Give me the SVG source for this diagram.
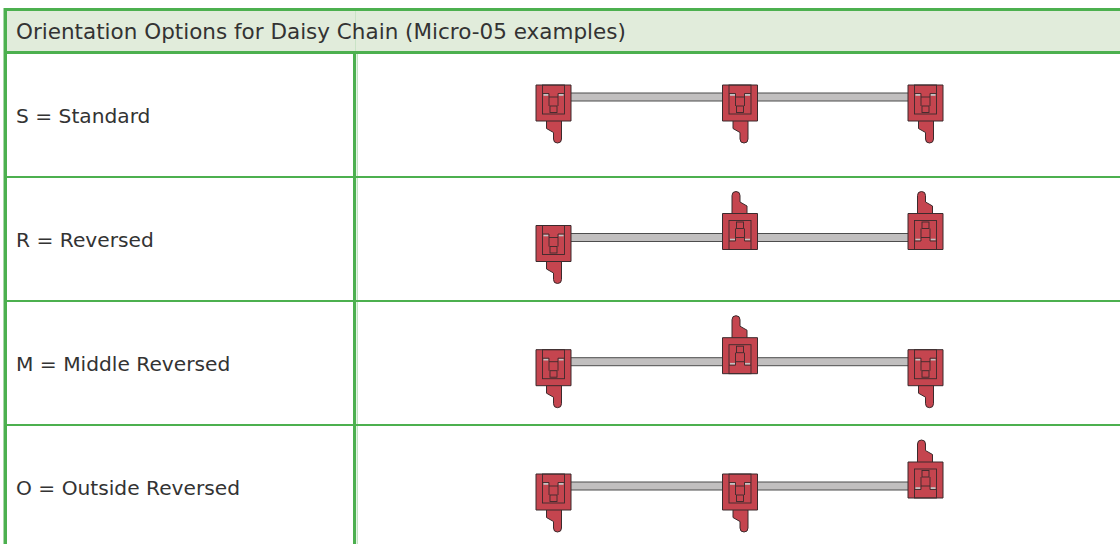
<svg xmlns="http://www.w3.org/2000/svg" xmlns:xlink="http://www.w3.org/1999/xlink" width="1120" height="544" viewBox="0 0 1120 544">
<style>
.grid{stroke:#4cb04f;fill:none}
.lbl{font-family:"DejaVu Sans","Verdana",sans-serif;font-size:20.2px;fill:#333333}
.hdr{font-size:21.5px}
.red{fill:#c5454f;stroke:#3b2b2d;stroke-width:1;stroke-linejoin:round}
.ln{fill:none;stroke:#3b2b2d;stroke-width:0.9}
.sl{fill:#c4c4c4;stroke:none}
.cable{fill:#c1bfbf;stroke:#4d4d4d;stroke-width:1}
</style>
<defs>
<g id="conn">
<path class="red" d="M -7 23 H 8 V 42 A 4 4 0 0 1 0 42 V 35.5 L -7 31.5 Z"/>
<rect class="red" x="-17.5" y="-12" width="35" height="36"/>
<rect class="ln" x="-11" y="-12" width="22" height="29"/>
<rect class="sl" x="-10" y="-3" width="5" height="1.8"/>
<rect class="sl" x="5" y="-3" width="5" height="1.8"/>
<path class="ln" d="M -11 -3.5 H -4.5 V 0 H 4.5 V -3.5 H 11 M -4.5 0 V 9 M 4.5 0 V 9"/>
<rect class="ln" x="-3.5" y="9" width="7" height="6.5"/>
</g>
</defs>
<rect x="0" y="0" width="1120" height="544" fill="#ffffff"/>
<g id="table">
<rect x="6" y="11" width="1114" height="40" fill="#e1ecdb"/>
<line x1="355.5" y1="11" x2="355.5" y2="51" stroke="#c9e3c6" stroke-width="1"/>
<line class="grid" x1="4" y1="9.5" x2="1120" y2="9.5" stroke-width="3"/>
<line class="grid" x1="4" y1="52.5" x2="1120" y2="52.5" stroke-width="3"/>
<line x1="3.5" y1="8" x2="3.5" y2="544" stroke="#a8d8a8" stroke-width="1"/>
<line class="grid" x1="5.5" y1="8" x2="5.5" y2="544" stroke-width="3"/>
<line x1="357.2" y1="54" x2="357.2" y2="544" stroke="#a8d8a8" stroke-width="1"/>
<line class="grid" x1="354.5" y1="54" x2="354.5" y2="544" stroke-width="3"/>
<line class="grid" x1="7" y1="177" x2="1120" y2="177" stroke-width="2"/>
<line class="grid" x1="7" y1="301" x2="1120" y2="301" stroke-width="2"/>
<line class="grid" x1="7" y1="425" x2="1120" y2="425" stroke-width="2"/>
<text class="lbl hdr" x="16" y="39">Orientation Options for Daisy Chain (Micro-05 examples)</text>
<text class="lbl" x="16" y="122.5">S = Standard</text>
<text class="lbl" x="16" y="246.5">R = Reversed</text>
<text class="lbl" x="16" y="370.5">M = Middle Reversed</text>
<text class="lbl" x="16" y="494.5">O = Outside Reversed</text>
</g>
<g id="cables">
<rect class="cable" x="553" y="93" width="373" height="8"/>
<rect class="cable" x="553" y="233.5" width="373" height="8"/>
<rect class="cable" x="553" y="357.7" width="373" height="8"/>
<rect class="cable" x="553" y="482" width="373" height="8"/>
</g>
<g id="s1"><use xlink:href="#conn" transform="translate(553.5,97)"/></g>
<g id="s2"><use xlink:href="#conn" transform="translate(740,97)"/></g>
<g id="s3"><use xlink:href="#conn" transform="translate(925.5,97)"/></g>
<g id="r1"><use xlink:href="#conn" transform="translate(553.5,237.5)"/></g>
<g id="r2"><use xlink:href="#conn" transform="translate(740,237.5) rotate(180)"/></g>
<g id="r3"><use xlink:href="#conn" transform="translate(925.5,237.5) rotate(180)"/></g>
<g id="m1"><use xlink:href="#conn" transform="translate(553.5,361.7)"/></g>
<g id="m2"><use xlink:href="#conn" transform="translate(740,361.7) rotate(180)"/></g>
<g id="m3"><use xlink:href="#conn" transform="translate(925.5,361.7)"/></g>
<g id="o1"><use xlink:href="#conn" transform="translate(553.5,486)"/></g>
<g id="o2"><use xlink:href="#conn" transform="translate(740,486)"/></g>
<g id="o3"><use xlink:href="#conn" transform="translate(925.5,486) rotate(180)"/></g>
</svg>
